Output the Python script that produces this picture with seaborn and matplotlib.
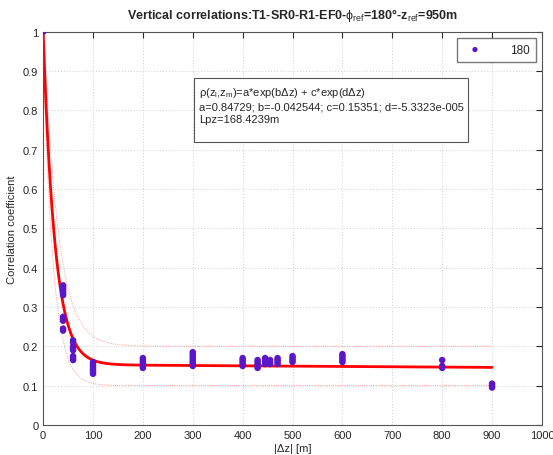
import numpy as np
import pandas as pd
import matplotlib.pyplot as plt
import seaborn as sns

# measured correlations per separation |dz|
dz_groups = [0, 40, 60, 100, 200, 300, 400, 430, 445, 455, 470, 500, 600, 800, 900]
rho_groups = [
    [1.0],
    [0.24, 0.245, 0.265, 0.27, 0.275, 0.33, 0.335, 0.34, 0.345, 0.35, 0.355],
    [0.165, 0.17, 0.175, 0.19, 0.195, 0.2, 0.21, 0.215],
    [0.13, 0.135, 0.14, 0.145, 0.15, 0.155, 0.16],
    [0.145, 0.15, 0.155, 0.16, 0.165, 0.17],
    [0.15, 0.155, 0.16, 0.165, 0.17, 0.175, 0.18, 0.185],
    [0.15, 0.155, 0.16, 0.165, 0.17],
    [0.145, 0.15, 0.155, 0.16, 0.165],
    [0.155, 0.16, 0.165, 0.17],
    [0.155, 0.16, 0.165],
    [0.155, 0.16, 0.165, 0.17],
    [0.16, 0.165, 0.17, 0.175],
    [0.16, 0.165, 0.17, 0.175, 0.18],
    [0.145, 0.15, 0.165],
    [0.095, 0.1, 0.105],
]

# fit parameters (from the annotation)
a, b, c, d = 0.84729, -0.042544, 0.15351, -5.3323e-005
lpz = 168.4239

rows = []
for x, vals in zip(dz_groups, rho_groups):
    for v in vals:
        rows.append({'dz': x, 'rho': v})
df = pd.DataFrame(rows)

zz = np.linspace(0, 900, 600)
fit = a * np.exp(b * zz) + c * np.exp(d * zz)
upper = a * np.exp(-0.035 * zz) + 0.2
lower = a * np.exp(-0.05 * zz) + 0.1

sns.set_style('white')
plt.rcParams['font.family'] = ['Liberation Sans', 'DejaVu Sans']
plt.rcParams['mathtext.fontset'] = 'custom'
plt.rcParams['mathtext.rm'] = 'Liberation Sans'

fig = plt.figure(figsize=(5.53, 4.56), dpi=100)
ax = fig.add_axes([0.078, 0.066, 0.902, 0.862])

ax.plot(zz, upper, color='#ff8080', lw=0.6, ls=':')
ax.plot(zz, lower, color='#ff8080', lw=0.6, ls=':')
ax.plot(zz, fit, color='#ff0000', lw=2)
sns.scatterplot(data=df, x='dz', y='rho', ax=ax, color='#5b17c7', s=22,
                edgecolor='none', label='180', zorder=3)

ax.set_xlim(0, 1000)
ax.set_ylim(0, 1)
ax.set_xticks(np.arange(0, 1001, 100))
ax.set_yticks(np.arange(0, 1.01, 0.1))
ax.set_yticklabels(['0', '0.1', '0.2', '0.3', '0.4', '0.5', '0.6', '0.7', '0.8', '0.9', '1'])
ax.grid(True, color='#d0d0d0', ls=(0, (1, 2)), lw=0.7)
ax.tick_params(direction='in', length=4, labelsize=8, top=True, right=True)
for s in ax.spines.values():
    s.set_color('#555555')
    s.set_linewidth(0.8)

ax.set_xlabel('|\u0394z| [m]', fontsize=8, labelpad=2)
ax.set_ylabel('Correlation coefficient', fontsize=8, labelpad=4)
ax.set_title(r'Vertical correlations:T1-SR0-R1-EF0-$\mathrm{\phi}_{\rm ref}$=180°-z$_{\rm ref}$=950m',
             fontsize=9, fontweight='bold', pad=10)

txt = (r'$\mathrm{\rho}$(z$_{\rm l}$,z$_{\rm m}$)=a*exp(b$\Delta$z) + c*exp(d$\Delta$z)' + '\n'
       + f'a={a}; b={b}; c={c}; d=-5.3323e-005\n'
       + f'Lpz={lpz}m\n ')
ax.text(312, 0.865, txt, fontsize=8, va='top', ha='left', linespacing=1.35,
        bbox=dict(boxstyle='square,pad=0.4', fc='white', ec='#555555', lw=0.8))

leg = ax.legend(loc='upper right', fontsize=8.5, frameon=True, fancybox=False,
                markerscale=0.8, handletextpad=2.0, borderpad=0.5)
leg.get_frame().set_edgecolor('#555555')

fig.savefig('out.png', dpi=100)
